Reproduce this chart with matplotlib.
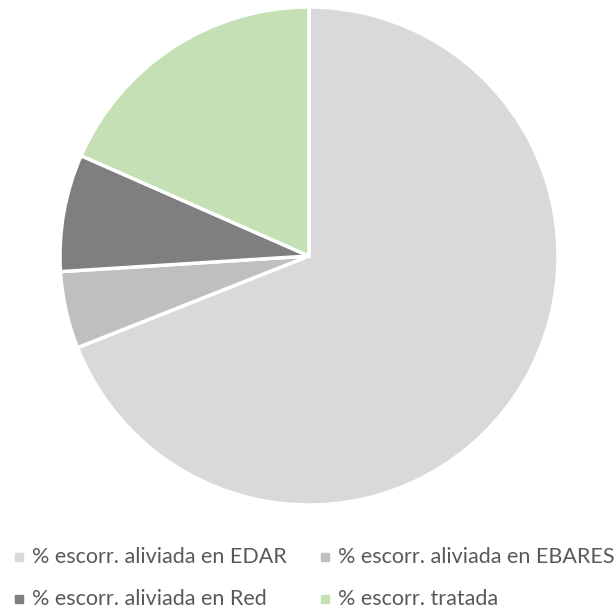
import matplotlib
matplotlib.use("Agg")
import matplotlib.pyplot as plt

etiquetas = ['% escorr. aliviada en EDAR', '% escorr. aliviada en EBARES',
             '% escorr. aliviada en Red', '% escorr. tratada']
valores = [69, 5, 7.6, 18.4]
colores = ['#D9D9D9', '#BFBFBF', '#7F7F7F', '#C5E0B4']

plt.rcParams['font.family'] = ['Lato', 'DejaVu Sans']

fig = plt.figure(figsize=(6.16, 6.12), dpi=100)
# tarta: centro (309, 256) px, radio 249 px
ax = fig.add_axes([(309 - 249) / 616, 1 - (256 + 249) / 612, 498 / 616, 498 / 612])
ax.pie(valores, colors=colores, startangle=90, counterclock=False,
       wedgeprops=dict(edgecolor='white', linewidth=2.5))
ax.set_xlim(-1, 1)
ax.set_ylim(-1, 1)
ax.set_aspect('equal')
ax.axis('off')

# leyenda en dos columnas
xs = [15, 321]
ys = [557, 599]
for i, (lab, col) in enumerate(zip(etiquetas, colores)):
    x = xs[i % 2]
    y = ys[i // 2]
    fig.patches.append(plt.Rectangle((x / 616, 1 - (y + 4) / 612), 8 / 616, 8 / 612,
                                     color=col, transform=fig.transFigure, figure=fig))
    fig.text((x + 17) / 616, 1 - y / 612, lab, fontsize=15.5, color='#595959',
             va='center', ha='left')

fig.savefig('out.png', dpi=100)
